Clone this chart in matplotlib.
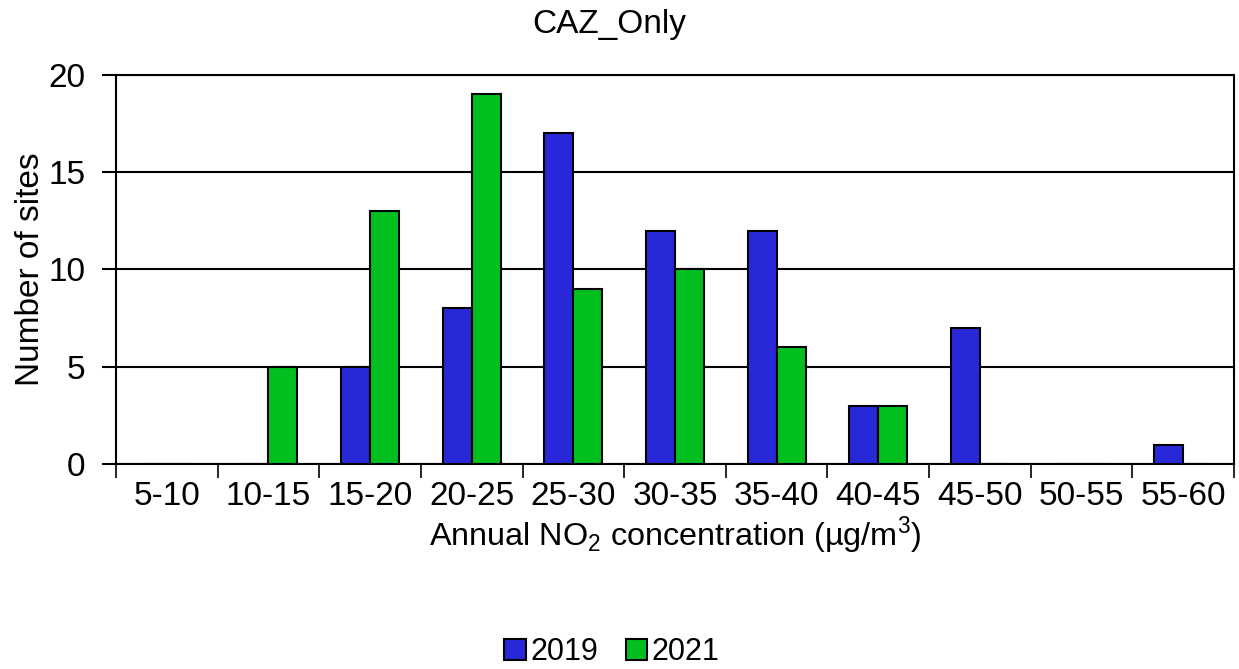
import numpy as np
import matplotlib
matplotlib.use("Agg")
from matplotlib import pyplot as plt
from matplotlib.patches import Patch

plt.rcParams['font.family'] = ['Liberation Sans', 'DejaVu Sans']
plt.rcParams['mathtext.fontset'] = 'custom'
plt.rcParams['mathtext.rm'] = 'Liberation Sans'

# concentration bins and number of sites per year
bins = ["5-10", "10-15", "15-20", "20-25", "25-30", "30-35",
        "35-40", "40-45", "45-50", "50-55", "55-60"]
sites_2019 = [0, 0, 5, 8, 17, 12, 12, 3, 7, 0, 1]
sites_2021 = [0, 5, 13, 19, 9, 10, 6, 3, 0, 0, 0]

blue = "#2828D8"
green = "#00BF1F"

fig = plt.figure(figsize=(12.39, 6.69), dpi=100)
ax = fig.add_axes([0.0936, 0.3064, 0.9024, 0.5816])

x = np.arange(len(bins))
w = 0.285
ax.bar(x - w / 2, sites_2019, width=w, color=blue, edgecolor="black", linewidth=1.5, zorder=3)
ax.bar(x + w / 2, sites_2021, width=w, color=green, edgecolor="black", linewidth=1.5, zorder=3)

ax.set_xlim(-0.5, len(bins) - 0.5)
ax.set_ylim(0, 20)
ax.set_yticks([0, 5, 10, 15, 20])
ax.yaxis.grid(True, color="black", linewidth=1.5, zorder=1)

# ticks between categories, labels at centres
ax.set_xticks(np.arange(len(bins) + 1) - 0.5)
ax.set_xticklabels([])
ax.set_xticks(x, minor=True)
ax.set_xticklabels(bins, minor=True)
ax.tick_params(axis="x", which="major", length=10, width=1.2)
ax.tick_params(axis="x", which="minor", length=0, labelsize=24, pad=12)
ax.tick_params(axis="y", length=10, width=1.5, labelsize=24, pad=12)

for s in ax.spines.values():
    s.set_linewidth(1.5)

ax.set_ylabel("Number of sites", fontsize=24, labelpad=2)
ax.set_xlabel("Annual NO$_2$ concentration (µg/m$^3$)", fontsize=23.3, labelpad=2)

fig.text(609 / 1239, 1 - 25 / 669, "CAZ_Only", fontsize=24, ha="center", va="center")

handles = [Patch(facecolor=blue, edgecolor="black", linewidth=1.5),
           Patch(facecolor=green, edgecolor="black", linewidth=1.5)]
fig.legend(handles, ["2019", "2021"], loc="center", bbox_to_anchor=(612 / 1239, 1 - 652 / 669),
           ncol=2, frameon=False, fontsize=22, handlelength=0.7, handleheight=0.7,
           handletextpad=0.15, columnspacing=0.9)

plt.savefig("out.png", dpi=100)
